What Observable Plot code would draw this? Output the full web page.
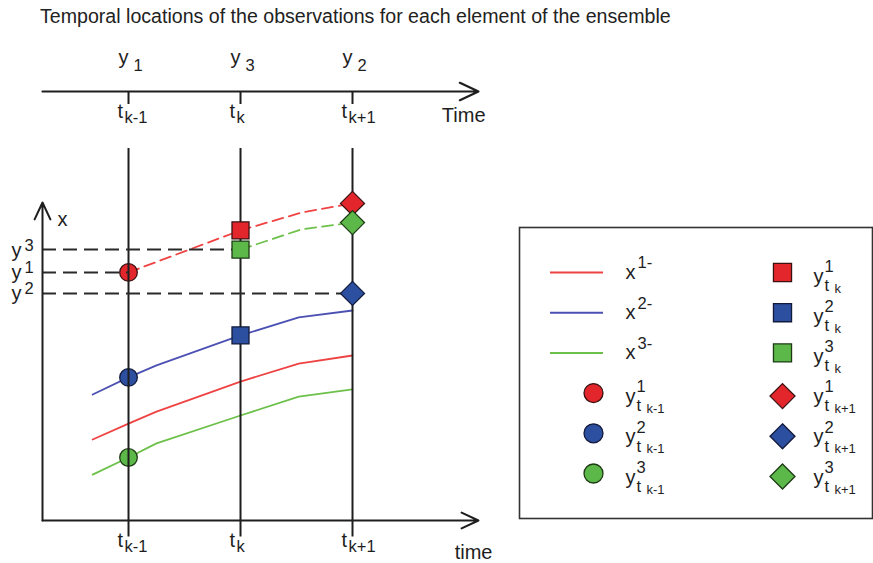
<!DOCTYPE html>
<html>
<head>
<meta charset="utf-8">
<script src="https://cdn.jsdelivr.net/npm/d3@7"></script>
<script src="https://cdn.jsdelivr.net/npm/@observablehq/plot@0.6"></script>
<style>
html, body { margin: 0; padding: 0; background: #fff; }
#root { position: relative; width: 873px; height: 563px; overflow: hidden; font-family: "Liberation Sans", Arial, sans-serif; color: #1e1e1e; }
#title { position: absolute; left: 40px; top: 5px; font-size: 19.6px; line-height: 22px; white-space: nowrap; color: #222; }
#top, #main, #legend { position: absolute; }
#top { left: 0; top: 30px; }
#main { left: 0; top: 140px; }
#legend { left: 518px; top: 226px; }
svg { overflow: visible; }
</style>
</head>
<body>
<div id="root">
  <div id="title">Temporal locations of the observations for each element of the ensemble</div>
  <div id="top"></div>
  <div id="main"></div>
  <div id="legend"></div>
</div>
<script>
// ---------------- data (time unit: one observation interval; t_{k-1} = 0) ----------------
const members = [1, 2, 3];
const obsTimes = [0, 1, 2];                 // t_{k-1}, t_k, t_{k+1}
const timeSubs = ["k-1", "k", "k+1"];
const obsMembers = ["1", "3", "2"];         // which member's observation at each time
const obsValues = [8.27, 9.03, 7.57];       // y^1, y^3, y^2 levels

// forecast trajectories x^{m-} (solid)
const forecastTimes = [-0.32, 0, 0.25, 1, 1.52, 2];
const forecast1 = [2.70, 3.23, 3.63, 4.63, 5.23, 5.50];
const forecast2 = [4.20, 4.77, 5.17, 6.17, 6.77, 7.00];
const forecast3 = [1.53, 2.10, 2.57, 3.50, 4.13, 4.37];

// trajectories restarted from observations (dashed)
const analysis1Times = [0, 1, 1.55, 2];
const analysis1 = [8.27, 9.67, 10.27, 10.57];
const analysis3Times = [1, 1.54, 2];
const analysis3 = [9.03, 9.70, 9.93];

// member values at each observation time (members 1, 2, 3)
const valuesPrev = [8.27, 4.77, 2.10];      // circles at t_{k-1}
const valuesCurr = [9.67, 6.17, 9.03];      // squares at t_k
const valuesNext = [10.57, 7.57, 9.93];     // diamonds at t_{k+1}

// axis extents
const timeMin = -0.768, timeMax = 3.125;
const stateTop = 10.6, ruleTop = 12.4, ruleBottom = -0.55;

// ---------------- styles ----------------
const fillColor = {1: "#e3262b", 2: "#2d4f9f", 3: "#5cb848"};
const lineColor = {1: "#ef4343", 2: "#4b50b3", 3: "#6dc04a"};
const edgeColor = {1: "#3a1212", 2: "#121a3c", 3: "#1d3a14"};
const ink = "#1e1e1e";
const font = {fontFamily: "'Liberation Sans', Arial, sans-serif", fontSize: "20px", color: ink, background: "transparent", overflow: "visible"};
const BASE = 20, SUB = 16.5, SUBSUB = 13;

const diamond = {draw(ctx, size) { const h = 1.25 * Math.sqrt(size / Math.PI); ctx.moveTo(0, -h); ctx.lineTo(h, 0); ctx.lineTo(0, h); ctx.lineTo(-h, 0); ctx.closePath(); }};

function rich(data, {x, y, dx = 0, dy = 0, fontParts}) {
  return fontParts.map(p => Plot.text(data.filter(d => d[p.key] != null && d[p.key] !== ""), {
    x, y, text: p.key, fontSize: p.size, textAnchor: "start",
    dx: dx + p.dx, dy: dy + p.dy, fill: ink
  }));
}

const X = {domain: [timeMin, timeMax], range: [42, 478], axis: null};
const arrowOpts = {stroke: ink, strokeWidth: 2, headLength: 14, headAngle: 50};

// ---------------- top timeline ----------------
const timeLabels = obsTimes.map((t, i) => ({t, base: "t", sub: timeSubs[i]}));
const obsTopLabels = obsTimes.map((t, i) => ({t, base: "y", sub: obsMembers[i]}));

const topPlot = Plot.plot({
  width: 500, height: 110, margin: 0,
  x: X,
  y: {domain: [0, 1], range: [61, 74], axis: null},
  style: font,
  marks: [
    Plot.arrow([0], {x1: timeMin, x2: timeMax, y1: 0, y2: 0, ...arrowOpts, strokeWidth: 2.2}),
    Plot.ruleX(obsTimes, {x: d => d, y1: 0, y2: 1, stroke: ink, strokeWidth: 2}),
    ...rich(timeLabels, {x: "t", y: 0, fontParts: [
      {key: "base", size: BASE, dx: -11, dy: 19.6},
      {key: "sub", size: SUB, dx: -4, dy: 26.7}]}),
    ...rich(obsTopLabels, {x: "t", y: 0, fontParts: [
      {key: "base", size: BASE, dx: -10, dy: -34.4},
      {key: "sub", size: SUB, dx: 5, dy: -25.3}]}),
    Plot.text(["Time"], {x: timeMax, y: 0, text: d => d, textAnchor: "end", dx: 7, dy: 24.3, fontSize: BASE, fill: ink})
  ]
});
document.getElementById("top").append(topPlot);

// ---------------- main chart ----------------
const forecastData = members.flatMap((m, j) => forecastTimes.map((t, i) => ({m, t, v: [forecast1, forecast2, forecast3][j][i]})));
const analysisData = [
  ...analysis1Times.map((t, i) => ({m: 1, t, v: analysis1[i]})),
  ...analysis3Times.map((t, i) => ({m: 3, t, v: analysis3[i]}))
];
const obsData = obsTimes.map((t, i) => ({t, v: obsValues[i], base: "y", sup: obsMembers[i]}));
const prevData = members.map((m, i) => ({m, t: obsTimes[0], v: valuesPrev[i]}));
const currData = members.map((m, i) => ({m, t: obsTimes[1], v: valuesCurr[i]}));
const nextData = members.map((m, i) => ({m, t: obsTimes[2], v: valuesNext[i]}));

const mainPlot = Plot.plot({
  width: 500, height: 423, margin: 0,
  x: X,
  y: {domain: [0, ruleTop], range: [380, 8], axis: null},
  color: {type: "identity"},
  style: font,
  marks: [
    Plot.line(forecastData, {x: "t", y: "v", z: "m", stroke: d => lineColor[d.m], strokeWidth: 1.8}),
    Plot.line(analysisData, {x: "t", y: "v", z: "m", stroke: d => lineColor[d.m], strokeWidth: 1.8, strokeDasharray: "11,6"}),
    Plot.dot(prevData, {x: "t", y: "v", symbol: "circle", r: 8.8, fill: d => fillColor[d.m], stroke: d => edgeColor[d.m], strokeWidth: 1.3}),
    Plot.ruleX(obsTimes, {x: d => d, y1: ruleBottom, y2: ruleTop, stroke: ink, strokeWidth: 2}),
    Plot.ruleY(obsData, {y: "v", x1: timeMin, x2: "t", stroke: "#2a2a2a", strokeWidth: 2, strokeDasharray: "14,7"}),
    Plot.arrow([0], {x1: timeMin, x2: timeMax, y1: 0, y2: 0, ...arrowOpts}),
    Plot.arrow([0], {x1: timeMin, x2: timeMin, y1: 0, y2: stateTop, ...arrowOpts}),
    Plot.dot(currData, {x: "t", y: "v", symbol: "square", r: 9.6, fill: d => fillColor[d.m], stroke: d => edgeColor[d.m], strokeWidth: 1.3}),
    Plot.dot(nextData, {x: "t", y: "v", symbol: diamond, r: 9.6, fill: d => fillColor[d.m], stroke: d => edgeColor[d.m], strokeWidth: 1.3}),
    ...rich(timeLabels, {x: "t", y: 0, fontParts: [
      {key: "base", size: BASE, dx: -11, dy: 19.6},
      {key: "sub", size: SUB, dx: -4, dy: 26.7}]}),
    ...rich(obsData, {x: timeMin, y: "v", fontParts: [
      {key: "base", size: BASE, dx: -31, dy: 0.6},
      {key: "sup", size: SUB, dx: -18, dy: -4.3}]}),
    Plot.text(["x"], {x: timeMin, y: stateTop, text: d => d, textAnchor: "start", dx: 15, dy: 16.6, fontSize: BASE, fill: ink}),
    Plot.text(["time"], {x: timeMax, y: 0, text: d => d, textAnchor: "end", dx: 14, dy: 31.6, fontSize: BASE, fill: ink})
  ]
});
document.getElementById("main").append(mainPlot);

// ---------------- legend ----------------
const lineEntries = members.map((m, i) => ({m, col: 0, row: i, base: "x", sup: m + "-"}));
const circleEntries = members.map((m, i) => ({m, col: 0, row: 3 + i, base: "y", sup: String(m), sub: "t", subsub: timeSubs[0]}));
const squareEntries = members.map((m, i) => ({m, col: 1, row: i, base: "y", sup: String(m), sub: "t", subsub: timeSubs[1]}));
const diamondEntries = members.map((m, i) => ({m, col: 1, row: 3 + i, base: "y", sup: String(m), sub: "t", subsub: timeSubs[2]}));
const colGap = 188;

const legendPlot = Plot.plot({
  width: 355, height: 293, margin: 1,
  x: {domain: [0, 1], range: [107, 295], axis: null},
  y: {domain: [0, 5], range: [46, 247], axis: null},
  color: {type: "identity"},
  style: font,
  marks: [
    Plot.frame({stroke: "#333", strokeWidth: 1.6}),
    Plot.ruleY(lineEntries, {y: "row", x1: d => d.col - 75 / colGap, x2: d => d.col - 22 / colGap, stroke: d => lineColor[d.m], strokeWidth: 2}),
    Plot.dot(circleEntries, {x: "col", y: "row", dx: -32, symbol: "circle", r: 9.5, fill: d => fillColor[d.m], stroke: d => edgeColor[d.m], strokeWidth: 1.3}),
    Plot.dot(squareEntries, {x: "col", y: "row", dx: -31, symbol: "square", r: 10.2, fill: d => fillColor[d.m], stroke: d => edgeColor[d.m], strokeWidth: 1.3}),
    Plot.dot(diamondEntries, {x: "col", y: "row", dx: -31, dy: 3, symbol: diamond, r: 10, fill: d => fillColor[d.m], stroke: d => edgeColor[d.m], strokeWidth: 1.3}),
    ...rich(lineEntries, {x: "col", y: "row", fontParts: [
      {key: "base", size: BASE, dx: 0, dy: -0.4},
      {key: "sup", size: SUB, dx: 12, dy: -9.3}]}),
    ...rich([...circleEntries, ...squareEntries, ...diamondEntries], {x: "col", y: "row", fontParts: [
      {key: "base", size: BASE, dx: 0, dy: 3.6},
      {key: "sup", size: SUB, dx: 11, dy: -6},
      {key: "sub", size: SUB, dx: 11, dy: 13},
      {key: "subsub", size: SUBSUB, dx: 21, dy: 16}]})
  ]
});
document.getElementById("legend").append(legendPlot);
</script>
</body>
</html>
